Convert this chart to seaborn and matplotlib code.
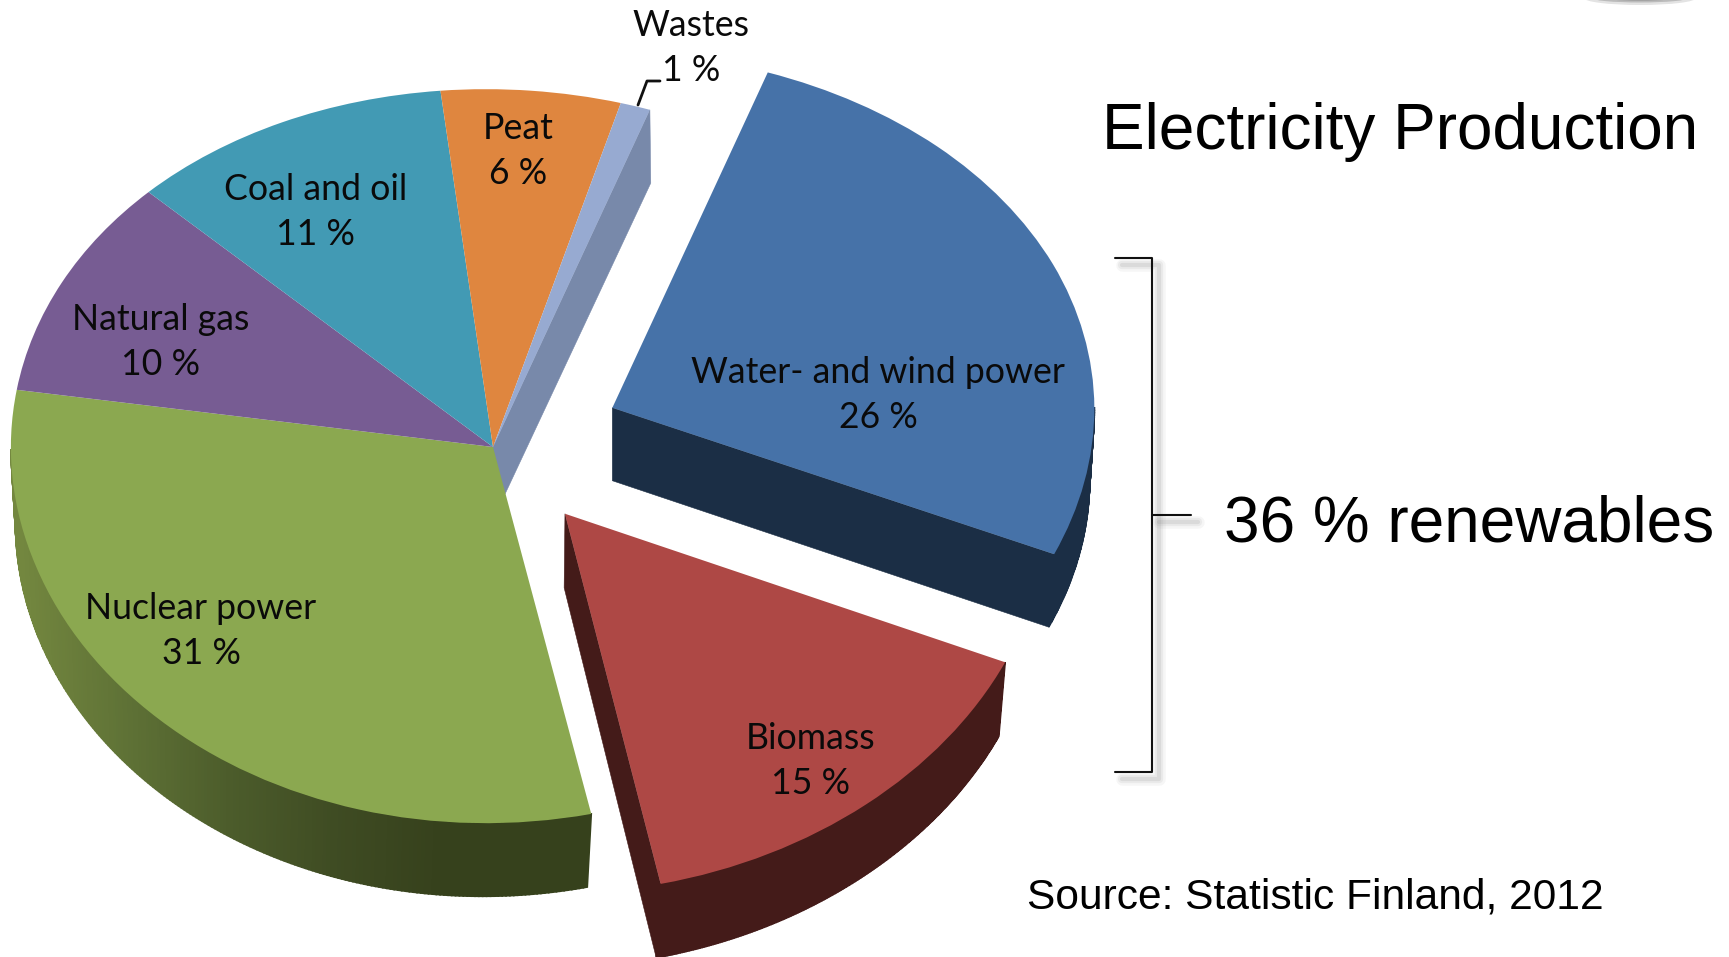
import numpy as np
import matplotlib
matplotlib.use("Agg")
import matplotlib.pyplot as plt
from matplotlib.lines import Line2D
from matplotlib.patches import Ellipse
from matplotlib.transforms import Transform
import seaborn as sns

# Electricity production by source (%)
sources = ["Water- and wind power", "Biomass", "Nuclear power", "Natural gas",
           "Coal and oil", "Peat", "Wastes"]
shares = [26, 15, 31, 10, 11, 6, 1]
pull_out = [0.27, 0.235, 0, 0, 0, 0, 0]
top_colors = ["#4672a8", "#ae4845", "#8ba850", "#775c93", "#429ab4", "#df863f", "#97aad1"]
side_colors = ["#1b2e45", "#441b19", None, None, None, None, "#7889aa"]
label_centres = [(878, 395), (811, 761), (201, 631), (161, 342), (316, 212), (518, 151), (691, 48)]

W, H = 1729, 957
CX, CY = 493, 447       # pie centre in image pixels
RX, RY = 482, 367       # ellipse semi-axes in pixels
DEPTH = 73 / RY         # thickness of the slices in y data units
FLOOR = 0.99            # the lower face of a slice is slightly smaller than the top


class Foreshorten(Transform):
    """Mild perspective: the near half of the pie looms larger than the far half."""
    input_dims = 2
    output_dims = 2
    is_separable = False
    has_inverse = False

    def transform_non_affine(self, values):
        values = np.asarray(values, dtype=float)
        x, y = values[:, 0], values[:, 1]
        return np.column_stack([x - 0.015 * y * y, y * (1 - 0.025 * y)])


sns.set_theme(style="white")
plt.rcParams["font.family"] = ["Liberation Sans", "DejaVu Sans"]

fig = plt.figure(figsize=(W / 100, H / 100), dpi=100, facecolor="white")
ax = fig.add_axes([0, 0, 1, 1])

wedges, _ = ax.pie(shares, explode=pull_out, colors=sns.color_palette(top_colors),
                   startangle=70.2, counterclock=False, radius=1,
                   wedgeprops={"linewidth": 0, "zorder": 5})

# The circle becomes an ellipse because the two axes use different scales
ax.set_aspect("auto")
ax.set_xlim(-CX / RX, (W - CX) / RX)
ax.set_ylim((CY - H) / RY, CY / RY)
ax.set_axis_off()

view = Foreshorten() + ax.transData
for w in wedges:
    w.set_transform(view)


def fx(px):
    return px / W


def fy(py):
    return 1 - py / H


def arc_side(wedge, color=None, ramp=None):
    """Fill the rim of a slice below its top face, strip by strip."""
    t1, t2 = wedge.theta1, wedge.theta2
    angles = np.radians(np.linspace(t1, t2, 240))
    angles = angles[np.sin(angles) <= 0.002]
    if angles.size < 2:
        return
    cx, cy = wedge.center
    x = cx + wedge.r * np.cos(angles)
    y = cy + wedge.r * np.sin(angles)
    xl = cx + FLOOR * wedge.r * np.cos(angles)
    yl = cy + FLOOR * wedge.r * np.sin(angles) - DEPTH
    for i in range(angles.size - 1):
        c = color
        if ramp is not None:
            pos = np.clip((x[i] + 0.98) / 0.88, 0, 1)
            c = ramp[int(pos * (len(ramp) - 1))]
        ax.fill([x[i], x[i + 1], xl[i + 1], xl[i]],
                [y[i], y[i + 1], yl[i + 1], yl[i]],
                color=c, lw=1.2, zorder=2, transform=view)


def edge_side(wedge, theta, color):
    """Fill the straight cut face of a slice along the radius at angle theta."""
    cx, cy = wedge.center
    ux, uy = np.cos(np.radians(theta)), np.sin(np.radians(theta))
    r = wedge.r
    ax.fill([cx, cx + r * ux, cx + FLOOR * r * ux, cx],
            [cy, cy + r * uy, cy + FLOOR * r * uy - DEPTH, cy - DEPTH],
            color=color, lw=0.4, zorder=1, transform=view)


water, biomass, nuclear = wedges[0], wedges[1], wedges[2]
waste = wedges[6]

# Rim shading runs from olive on the left to very dark green at the front
green_ramp = sns.blend_palette(["#73873f", "#5f7236", "#4c5c2b", "#3f4c23", "#36411c"], 200)
arc_side(nuclear, ramp=green_ramp)
arc_side(water, color=side_colors[0])
arc_side(biomass, color=side_colors[1])

# Cut faces turned towards the viewer
edge_side(water, water.theta1, side_colors[0])
edge_side(biomass, biomass.theta1, side_colors[1])
edge_side(waste, waste.theta1, side_colors[6])

# Slice captions
for name, value, (lx, ly) in zip(sources, shares, label_centres):
    fig.text(fx(lx), fy(ly), f"{name}\n{value} %", ha="center", va="center",
             family="Lato", fontsize=25.7, linespacing=1.45, color="#0a0a0a", zorder=8)

# Leader from the small Wastes slice to its caption
fig.add_artist(Line2D([fx(638), fx(647), fx(660)], [fy(105), fy(81), fy(81)],
                      color="#111111", lw=2))

# Bracket grouping the renewable sources, with a soft drop shadow
bx = [1115, 1152, 1152, 1115]
by = [258, 258, 772, 772]
tx, ty = [1152, 1191], [515, 515]
for width, alpha in [(9, 0.05), (6, 0.07), (3, 0.10)]:
    fig.add_artist(Line2D([fx(v + 7) for v in bx], [fy(v + 7) for v in by],
                          color="#555555", lw=width, alpha=alpha, solid_joinstyle="round"))
    fig.add_artist(Line2D([fx(v + 7) for v in tx], [fy(v + 7) for v in ty],
                          color="#555555", lw=width, alpha=alpha))
fig.add_artist(Line2D([fx(v) for v in bx], [fy(v) for v in by], color="#111111", lw=1.5))
fig.add_artist(Line2D([fx(v) for v in tx], [fy(v) for v in ty], color="#111111", lw=1.5))

# Side annotations
fig.text(fx(1102), fy(149), "Electricity Production", fontsize=46, color="black", va="baseline")
fig.text(fx(1224), fy(542), "36 % renewables", fontsize=46, color="black", va="baseline")
fig.text(fx(1027), fy(908), "Source: Statistic Finland, 2012", fontsize=30.6, color="black", va="baseline")

# Sliver of a dark shape at the top edge
for width, height, alpha in [(112, 14, 0.15), (96, 9, 0.25), (78, 5, 0.4)]:
    fig.add_artist(Ellipse((fx(1640), fy(-2)), fx(width), height / H,
                           transform=fig.transFigure, color="#444444", alpha=alpha, lw=0))

fig.savefig("out.png", dpi=100)
